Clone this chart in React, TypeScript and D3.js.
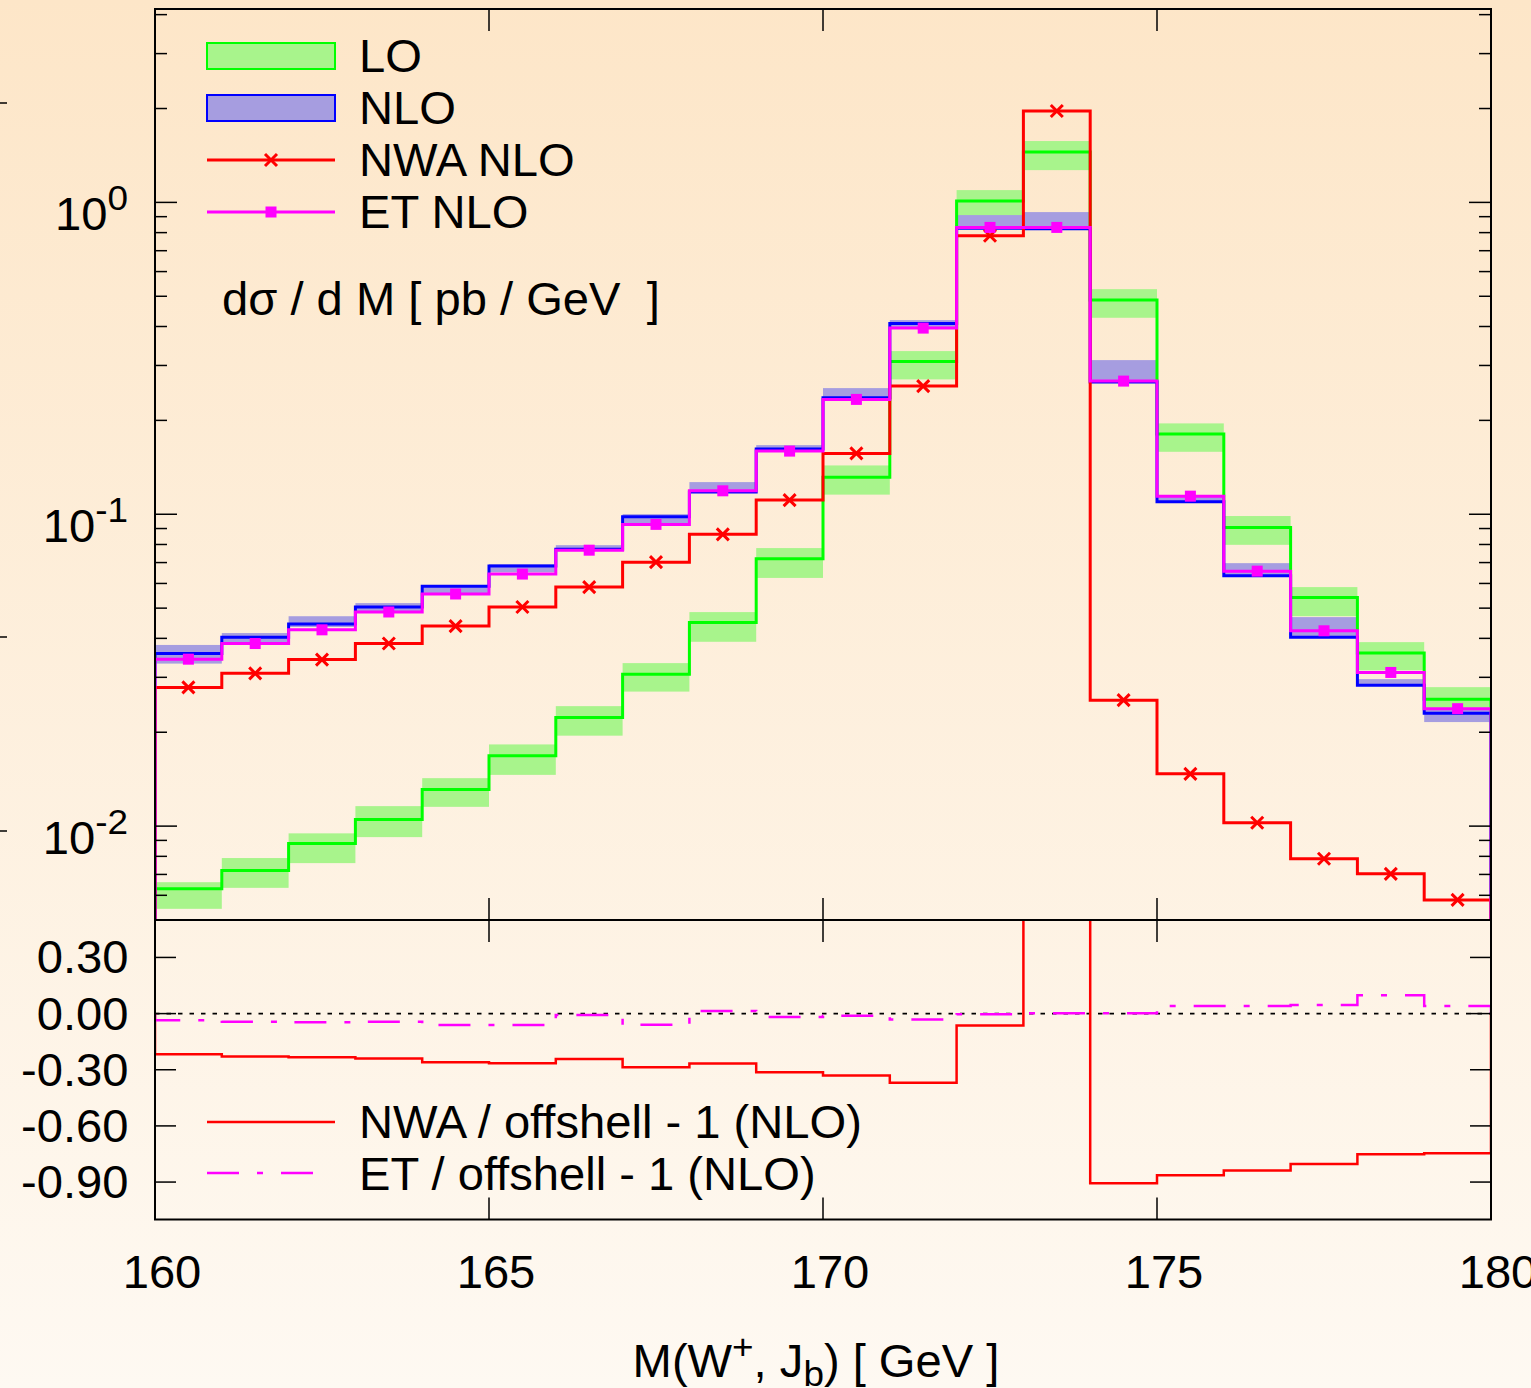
import React, { useRef, useEffect } from 'react';
import * as d3 from 'd3';

// bin edges of M(W+, Jb) in GeV
const edges = [160, 161, 162, 163, 164, 165, 166, 167, 168, 169, 170, 171, 172, 173, 174, 175, 176, 177, 178, 179, 180];

// LO, with scale band
const loValue = [0.0063, 0.0072, 0.0088, 0.0105, 0.0131, 0.0168, 0.0223, 0.0307, 0.045, 0.072, 0.1315, 0.309, 1.01, 1.45, 0.486, 0.181, 0.0907, 0.0541, 0.0359, 0.0255];
const loDown = [0.00543, 0.00634, 0.00761, 0.00922, 0.01153, 0.0146, 0.0195, 0.027, 0.039, 0.0625, 0.1156, 0.2707, 0.877, 1.269, 0.4266, 0.1586, 0.0798, 0.0471, 0.0316, 0.0233];
const loUp = [0.00661, 0.0079, 0.00948, 0.01159, 0.01425, 0.01828, 0.02425, 0.03332, 0.04856, 0.0779, 0.1434, 0.3336, 1.095, 1.573, 0.527, 0.1956, 0.0987, 0.0584, 0.0389, 0.0279];

// NLO, with scale band
const nloValue = [0.0358, 0.0403, 0.0445, 0.0504, 0.0588, 0.0682, 0.0773, 0.0981, 0.1178, 0.1618, 0.2362, 0.4093, 0.826, 0.823, 0.2653, 0.1096, 0.0635, 0.0403, 0.0283, 0.023];
const nloDown = [0.0332, 0.0383, 0.0435, 0.0489, 0.0559, 0.0652, 0.0762, 0.0937, 0.117, 0.1594, 0.234, 0.3953, 0.8213, 0.8213, 0.2653, 0.1094, 0.0633, 0.0404, 0.0283, 0.02156];
const nloUp = [0.0381, 0.0416, 0.0471, 0.0519, 0.0593, 0.0692, 0.0796, 0.1001, 0.1268, 0.1666, 0.2538, 0.4194, 0.9106, 0.9309, 0.3121, 0.1143, 0.0697, 0.0468, 0.0296, 0.0239];

// narrow width approximation and ET, both NLO
const nwaValue = [0.02785, 0.0309, 0.0342, 0.0385, 0.0438, 0.0504, 0.0584, 0.0702, 0.0862, 0.111, 0.1567, 0.2576, 0.7814, 1.963, 0.02535, 0.01471, 0.01025, 0.00786, 0.00703, 0.0058];
const etValue = [0.0343, 0.0385, 0.0426, 0.0486, 0.0555, 0.0643, 0.0767, 0.0928, 0.1189, 0.1594, 0.2335, 0.3953, 0.8313, 0.8313, 0.2673, 0.1143, 0.0657, 0.0423, 0.0311, 0.0238];

// ratio panel: X / offshell - 1 (NLO)
const nwaRatio = [-0.217, -0.229, -0.233, -0.24, -0.26, -0.265, -0.242, -0.287, -0.267, -0.314, -0.331, -0.37, -0.064, 1.37, -0.906, -0.863, -0.838, -0.803, -0.751, -0.746];
const etRatio = [-0.036, -0.043, -0.046, -0.043, -0.061, -0.061, -0.007, -0.06, 0.014, -0.018, -0.011, -0.032, -0.004, 0.002, 0.002, 0.041, 0.041, 0.046, 0.098, 0.041];

const xTicks = [160, 165, 170, 175, 180];
const decadeTicks = [1, 0.1, 0.01];
const decadeExp = ['0', '-1', '-2'];
const minorTicks = [0.006, 0.007, 0.008, 0.009, 0.02, 0.03, 0.04, 0.05, 0.06, 0.07, 0.08, 0.09, 0.2, 0.3, 0.4, 0.5, 0.6, 0.7, 0.8, 0.9, 2, 3, 4];
const ratioTicks = [0.3, 0, -0.3, -0.6, -0.9];
const ratioLabels = ['0.30', '0.00', '-0.30', '-0.60', '-0.90'];

const FONT = "'Liberation Sans', Arial, sans-serif";
const STRETCH = 1.025; // the text of the original is a little wide
const GREEN = '#00ff00';
const GREEN_BAND = '#a8f48c';
const BLUE = '#0000ff';
const PURPLE_BAND = '#a69de0';
const RED = '#ff0000';
const MAGENTA = '#ff00ff';
const ET_DASH = '32 18 6 18';

const T = ({ x, y, anchor, children }) => (
  <g transform={`translate(${x},${y}) scale(${STRETCH},1)`}>
    <text x={0} y={0} textAnchor={anchor || 'start'} style={{ whiteSpace: 'pre' }}>
      {children}
    </text>
  </g>
);

export default function App() {
  const svgRef = useRef(null);

  // SET DIMENSIONS
  const w = 1531,
    h = 1388;
  const left = 155,
    right = 1491,
    top = 9,
    mid = 920,
    bottom = 1219.5;

  useEffect(() => {
    const svg = d3.select(svgRef.current);
    svg.selectAll('.plot').remove();
    const g = svg.append('g').attr('class', 'plot');

    // SET SCALING
    const x = d3.scaleLinear().domain([160, 180]).range([left, right]);
    const y = d3.scaleLog().domain([0.005, 4.17]).range([mid, top]);
    const yr = d3.scaleLinear().domain([-1.1, 0.5]).range([bottom, mid]);

    const defs = g.append('defs');
    defs.append('clipPath').attr('id', 'clipMain')
      .append('rect').attr('x', left).attr('y', top).attr('width', right - left).attr('height', mid - top);
    defs.append('clipPath').attr('id', 'clipRatio')
      .append('rect').attr('x', left).attr('y', mid).attr('width', right - left).attr('height', bottom - mid);

    const stepLine = d3.line().curve(d3.curveStepAfter);
    const stepPath = (vals, sy, base) => {
      const n = vals.length;
      const pts = [[x(edges[0]), base]];
      vals.forEach((v, i) => pts.push([x(edges[i]), sy(v)]));
      pts.push([x(edges[n]), sy(vals[n - 1])]);
      pts.push([x(edges[n]), base]);
      return stepLine(pts);
    };
    const centre = (i) => x((edges[i] + edges[i + 1]) / 2);

    // MAIN PANEL
    const main = g.append('g').attr('clip-path', 'url(#clipMain)');
    const band = (lo, hi, fill) => {
      main.append('g').selectAll('rect').data(lo).enter().append('rect')
        .attr('x', (d, i) => x(edges[i]))
        .attr('width', (d, i) => x(edges[i + 1]) - x(edges[i]))
        .attr('y', (d, i) => y(hi[i]))
        .attr('height', (d, i) => y(lo[i]) - y(hi[i]))
        .attr('fill', fill);
    };
    band(loDown, loUp, GREEN_BAND);
    band(nloDown, nloUp, PURPLE_BAND);

    const drawStep = (sel, vals, sy, base, color, width, dash) => {
      sel.append('path')
        .attr('d', stepPath(vals, sy, base))
        .attr('fill', 'none')
        .attr('stroke', color)
        .attr('stroke-width', width)
        .attr('stroke-dasharray', dash || null)
        .attr('stroke-linejoin', 'miter');
    };
    drawStep(main, loValue, y, mid + 4, GREEN, 3);
    drawStep(main, nloValue, y, mid + 4, BLUE, 3);
    drawStep(main, nwaValue, y, mid + 4, RED, 3);
    main.append('g').selectAll('path').data(nwaValue).enter().append('path')
      .attr('transform', (d, i) => `translate(${centre(i)},${y(d)})`)
      .attr('d', 'M-6,-6L6,6M-6,6L6,-6')
      .attr('stroke', RED).attr('stroke-width', 3);
    drawStep(main, etValue, y, mid + 4, MAGENTA, 3);
    main.append('g').selectAll('rect').data(etValue).enter().append('rect')
      .attr('x', (d, i) => centre(i) - 5.5).attr('y', (d) => y(d) - 5.5)
      .attr('width', 11).attr('height', 11).attr('fill', MAGENTA);

    // RATIO PANEL
    const ratio = g.append('g').attr('clip-path', 'url(#clipRatio)');
    ratio.append('line')
      .attr('x1', left).attr('x2', right).attr('y1', yr(0)).attr('y2', yr(0))
      .attr('stroke', '#000').attr('stroke-width', 1.7).attr('stroke-dasharray', '4.5 7');
    drawStep(ratio, nwaRatio, yr, yr(0), RED, 2.5);
    drawStep(ratio, etRatio, yr, yr(0), MAGENTA, 2.5, ET_DASH);

    // AXES: ticks
    const ticks = g.append('g').attr('stroke', '#000').attr('stroke-width', 1.5);
    const tick = (x1, y1, x2, y2) => ticks.append('line').attr('x1', x1).attr('y1', y1).attr('x2', x2).attr('y2', y2);
    decadeTicks.forEach((v) => {
      tick(left, y(v), left + 22, y(v));
      tick(right - 22, y(v), right, y(v));
    });
    minorTicks.forEach((v) => {
      tick(left, y(v), left + 12, y(v));
      tick(right - 12, y(v), right, y(v));
    });
    ratioTicks.forEach((v) => {
      tick(left, yr(v), left + 21, yr(v));
      tick(right - 21, yr(v), right, yr(v));
    });
    xTicks.slice(1, -1).forEach((v) => {
      tick(x(v), top, x(v), top + 22);
      tick(x(v), mid - 22, x(v), mid);
      tick(x(v), mid, x(v), mid + 22);
      tick(x(v), bottom - 22, x(v), bottom);
    });

    // frames
    g.append('rect').attr('x', left).attr('y', top).attr('width', right - left).attr('height', mid - top)
      .attr('fill', 'none').attr('stroke', '#000').attr('stroke-width', 2);
    g.append('rect').attr('x', left).attr('y', mid).attr('width', right - left).attr('height', bottom - mid)
      .attr('fill', 'none').attr('stroke', '#000').attr('stroke-width', 2);

    // tick labels
    const labels = g.append('g').attr('font-family', FONT).attr('fill', '#000');
    const label = (lx, ly, anchor) =>
      labels.append('g').attr('transform', `translate(${lx},${ly}) scale(${STRETCH},1)`)
        .append('text').attr('text-anchor', anchor).attr('font-size', 46);
    decadeTicks.forEach((v, i) => {
      const t = label(128, y(v) + 28, 'end');
      t.append('tspan').text('10');
      t.append('tspan').attr('dy', -20).attr('font-size', 36).text(decadeExp[i]);
    });
    ratioTicks.forEach((v, i) => {
      label(128.5, yr(v) + 16, 'end').text(ratioLabels[i]);
    });
    xTicks.forEach((v) => {
      label(x(v) + 7, 1288, 'middle').text(v);
    });
  }, []);

  return (
    <svg
      ref={svgRef}
      width={w}
      height={h}
      style={{ position: 'absolute', left: 0, top: 0, display: 'block' }}
      fontFamily={FONT}
    >
      <defs>
        <linearGradient id="bg" x1="0" y1="0" x2="0" y2="1">
          <stop offset="0" stopColor="#fde6c8" />
          <stop offset="1" stopColor="#fef9f2" />
        </linearGradient>
      </defs>
      <rect x={0} y={0} width={w} height={h} fill="url(#bg)" />

      {/* bits of the neighbouring figure at the left edge */}
      <g stroke="#000" strokeWidth={1.5}>
        <line x1={0} x2={7} y1={103} y2={103} />
        <line x1={0} x2={7} y1={637} y2={637} />
        <line x1={0} x2={7} y1={831} y2={831} />
      </g>

      {/* legend, main panel */}
      <g fontSize={46}>
        <rect x={207} y={43} width={128} height={26} fill={GREEN_BAND} stroke={GREEN} strokeWidth={2} />
        <T x={359} y={72}>LO</T>
        <rect x={207} y={95} width={128} height={26} fill={PURPLE_BAND} stroke={BLUE} strokeWidth={2} />
        <T x={359} y={124}>NLO</T>
        <line x1={207} x2={335} y1={160} y2={160} stroke={RED} strokeWidth={3} />
        <path d="M265,154L277,166M265,166L277,154" stroke={RED} strokeWidth={3} />
        <T x={359} y={176}>NWA NLO</T>
        <line x1={207} x2={335} y1={212} y2={212} stroke={MAGENTA} strokeWidth={3} />
        <rect x={265.5} y={206.5} width={11} height={11} fill={MAGENTA} />
        <T x={359} y={228}>ET NLO</T>
        <T x={222} y={315}>dσ / d M [ pb / GeV  ]</T>
      </g>

      {/* legend, ratio panel */}
      <g fontSize={46}>
        <line x1={207} x2={335} y1={1122} y2={1122} stroke={RED} strokeWidth={2.5} />
        <T x={359} y={1138}>NWA / offshell - 1 (NLO)</T>
        <line x1={207} x2={325} y1={1173} y2={1173} stroke={MAGENTA} strokeWidth={2.5} strokeDasharray={ET_DASH} />
        <T x={359} y={1190}>ET / offshell - 1 (NLO)</T>
      </g>

      {/* x axis title */}
      <g fontSize={46}>
        <T x={816} y={1377} anchor="middle">
          M(W<tspan dy={-18} fontSize={36}>+</tspan>
          <tspan dy={18}>, J</tspan>
          <tspan dy={9} fontSize={36}>b</tspan>
          <tspan dy={-9}>) [ GeV ]</tspan>
        </T>
      </g>
    </svg>
  );
}
